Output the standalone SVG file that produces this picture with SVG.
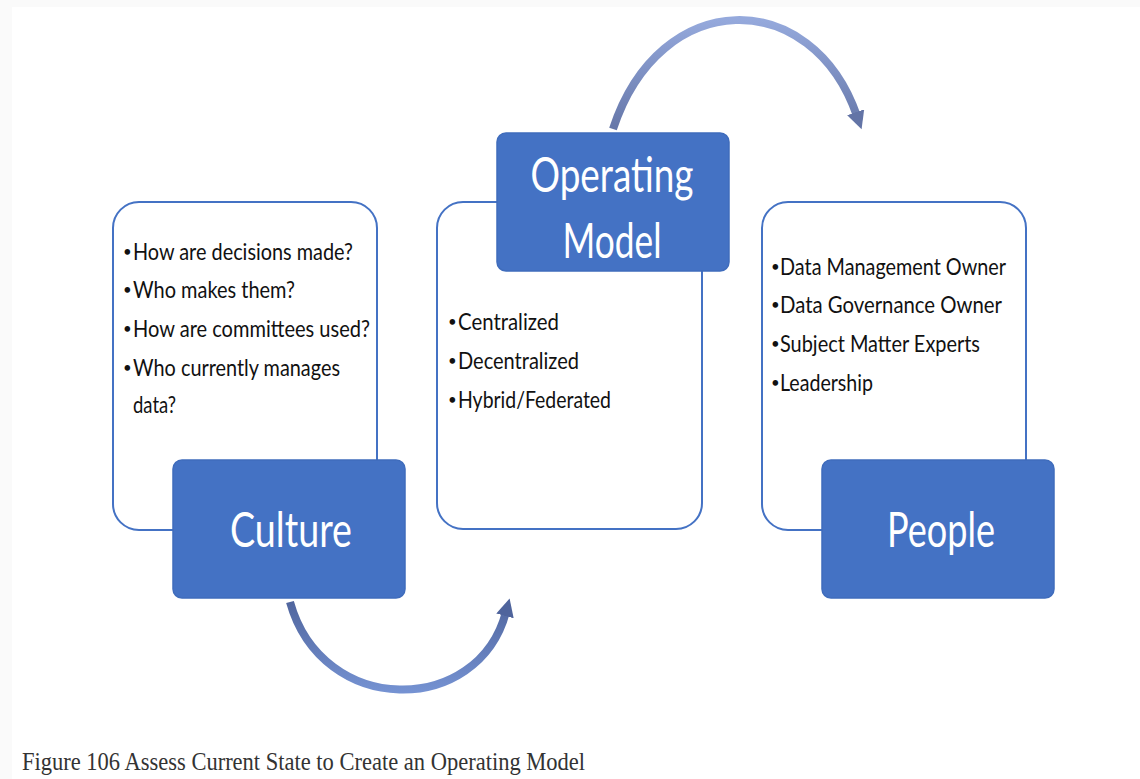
<svg xmlns="http://www.w3.org/2000/svg" width="1140" height="779" viewBox="0 0 1140 779">
<style>
.frame{fill:#ffffff;stroke:#4472c4;stroke-width:2}
.title{fill:#4472c4;stroke:#3f6cbc;stroke-width:1.5}
.tt{font-family:Lato,"Open Sans",sans-serif;font-size:49px;fill:#ffffff;text-anchor:middle}
.bt{font-family:Lato,"Open Sans",sans-serif;font-size:23px;fill:#111111}
.bu{font-family:Lato,"Open Sans",sans-serif;font-size:15px;fill:#111111}
.cap{font-family:"Liberation Serif","Times New Roman",serif;font-size:25px;fill:#333333}
</style>
<defs>
<linearGradient id="gTop" gradientUnits="userSpaceOnUse" x1="0" y1="20" x2="0" y2="135">
<stop offset="0" stop-color="#95a9dc"/>
<stop offset="1" stop-color="#6374a6"/>
</linearGradient>
<linearGradient id="gBot" gradientUnits="userSpaceOnUse" x1="0" y1="598" x2="0" y2="692">
<stop offset="0" stop-color="#4f649c"/>
<stop offset="1" stop-color="#7592d2"/>
</linearGradient>
<marker id="ahTop" markerUnits="userSpaceOnUse" markerWidth="20" markerHeight="20" refX="4" refY="9" orient="auto">
<path d="M0,0 L18,9 L0,18 z" fill="#6374a6"/>
</marker>
<marker id="ahBot" markerUnits="userSpaceOnUse" markerWidth="20" markerHeight="20" refX="4" refY="9" orient="auto">
<path d="M0,0 L18,9 L0,18 z" fill="#4f649c"/>
</marker>
</defs>
<rect x="0" y="0" width="1140" height="779" fill="#fafafa"/>
<rect x="12" y="7" width="1128" height="772" fill="#ffffff"/>

<g id="connectors">
<path d="M 613 129 C 660 -14, 812 -14, 857 116" fill="none" stroke="url(#gTop)" stroke-width="8" marker-end="url(#ahTop)"/>
<path d="M 290 602 C 322 717, 478 717, 506 612" fill="none" stroke="url(#gBot)" stroke-width="8" marker-end="url(#ahBot)"/>
</g>

<g id="culture">
<rect class="frame" x="113" y="202" width="264" height="328" rx="26"/>
<text class="bu" x="123" y="257">•</text>
<text class="bt" x="133" y="260" textLength="220" lengthAdjust="spacingAndGlyphs">How are decisions made?</text>
<text class="bu" x="123" y="295">•</text>
<text class="bt" x="133" y="298" textLength="162" lengthAdjust="spacingAndGlyphs">Who makes them?</text>
<text class="bu" x="123" y="334">•</text>
<text class="bt" x="133" y="337" textLength="237" lengthAdjust="spacingAndGlyphs">How are committees used?</text>
<text class="bu" x="123" y="373">•</text>
<text class="bt" x="133" y="376" textLength="207" lengthAdjust="spacingAndGlyphs">Who currently manages</text>
<text class="bt" x="133" y="413" textLength="43" lengthAdjust="spacingAndGlyphs">data?</text>
<rect class="title" x="173" y="460" width="232" height="138" rx="9"/>
<text class="tt" x="291" y="547" textLength="122" lengthAdjust="spacingAndGlyphs">Culture</text>
</g>

<g id="operating-model">
<rect class="frame" x="437" y="202" width="265" height="327" rx="26"/>
<text class="bu" x="448" y="327">•</text>
<text class="bt" x="458" y="330" textLength="101" lengthAdjust="spacingAndGlyphs">Centralized</text>
<text class="bu" x="448" y="366">•</text>
<text class="bt" x="458" y="369" textLength="121" lengthAdjust="spacingAndGlyphs">Decentralized</text>
<text class="bu" x="448" y="405">•</text>
<text class="bt" x="458" y="408" textLength="153" lengthAdjust="spacingAndGlyphs">Hybrid/Federated</text>
<rect class="title" x="497" y="133" width="232" height="138" rx="9"/>
<text class="tt" x="612" y="192" textLength="163" lengthAdjust="spacingAndGlyphs">Operating</text>
<text class="tt" x="612" y="258" textLength="99" lengthAdjust="spacingAndGlyphs">Model</text>
</g>

<g id="people">
<rect class="frame" x="762" y="202" width="264" height="328" rx="26"/>
<text class="bu" x="771" y="272">•</text>
<text class="bt" x="780" y="275" textLength="226" lengthAdjust="spacingAndGlyphs">Data Management Owner</text>
<text class="bu" x="771" y="310">•</text>
<text class="bt" x="780" y="313" textLength="222" lengthAdjust="spacingAndGlyphs">Data Governance Owner</text>
<text class="bu" x="771" y="349">•</text>
<text class="bt" x="780" y="352" textLength="200" lengthAdjust="spacingAndGlyphs">Subject Matter Experts</text>
<text class="bu" x="771" y="388">•</text>
<text class="bt" x="780" y="391" textLength="93" lengthAdjust="spacingAndGlyphs">Leadership</text>
<rect class="title" x="822" y="460" width="232" height="138" rx="9"/>
<text class="tt" x="941" y="547" textLength="108" lengthAdjust="spacingAndGlyphs">People</text>
</g>

<text class="cap" x="22" y="770" textLength="563" lengthAdjust="spacingAndGlyphs">Figure 106 Assess Current State to Create an Operating Model</text>
</svg>
